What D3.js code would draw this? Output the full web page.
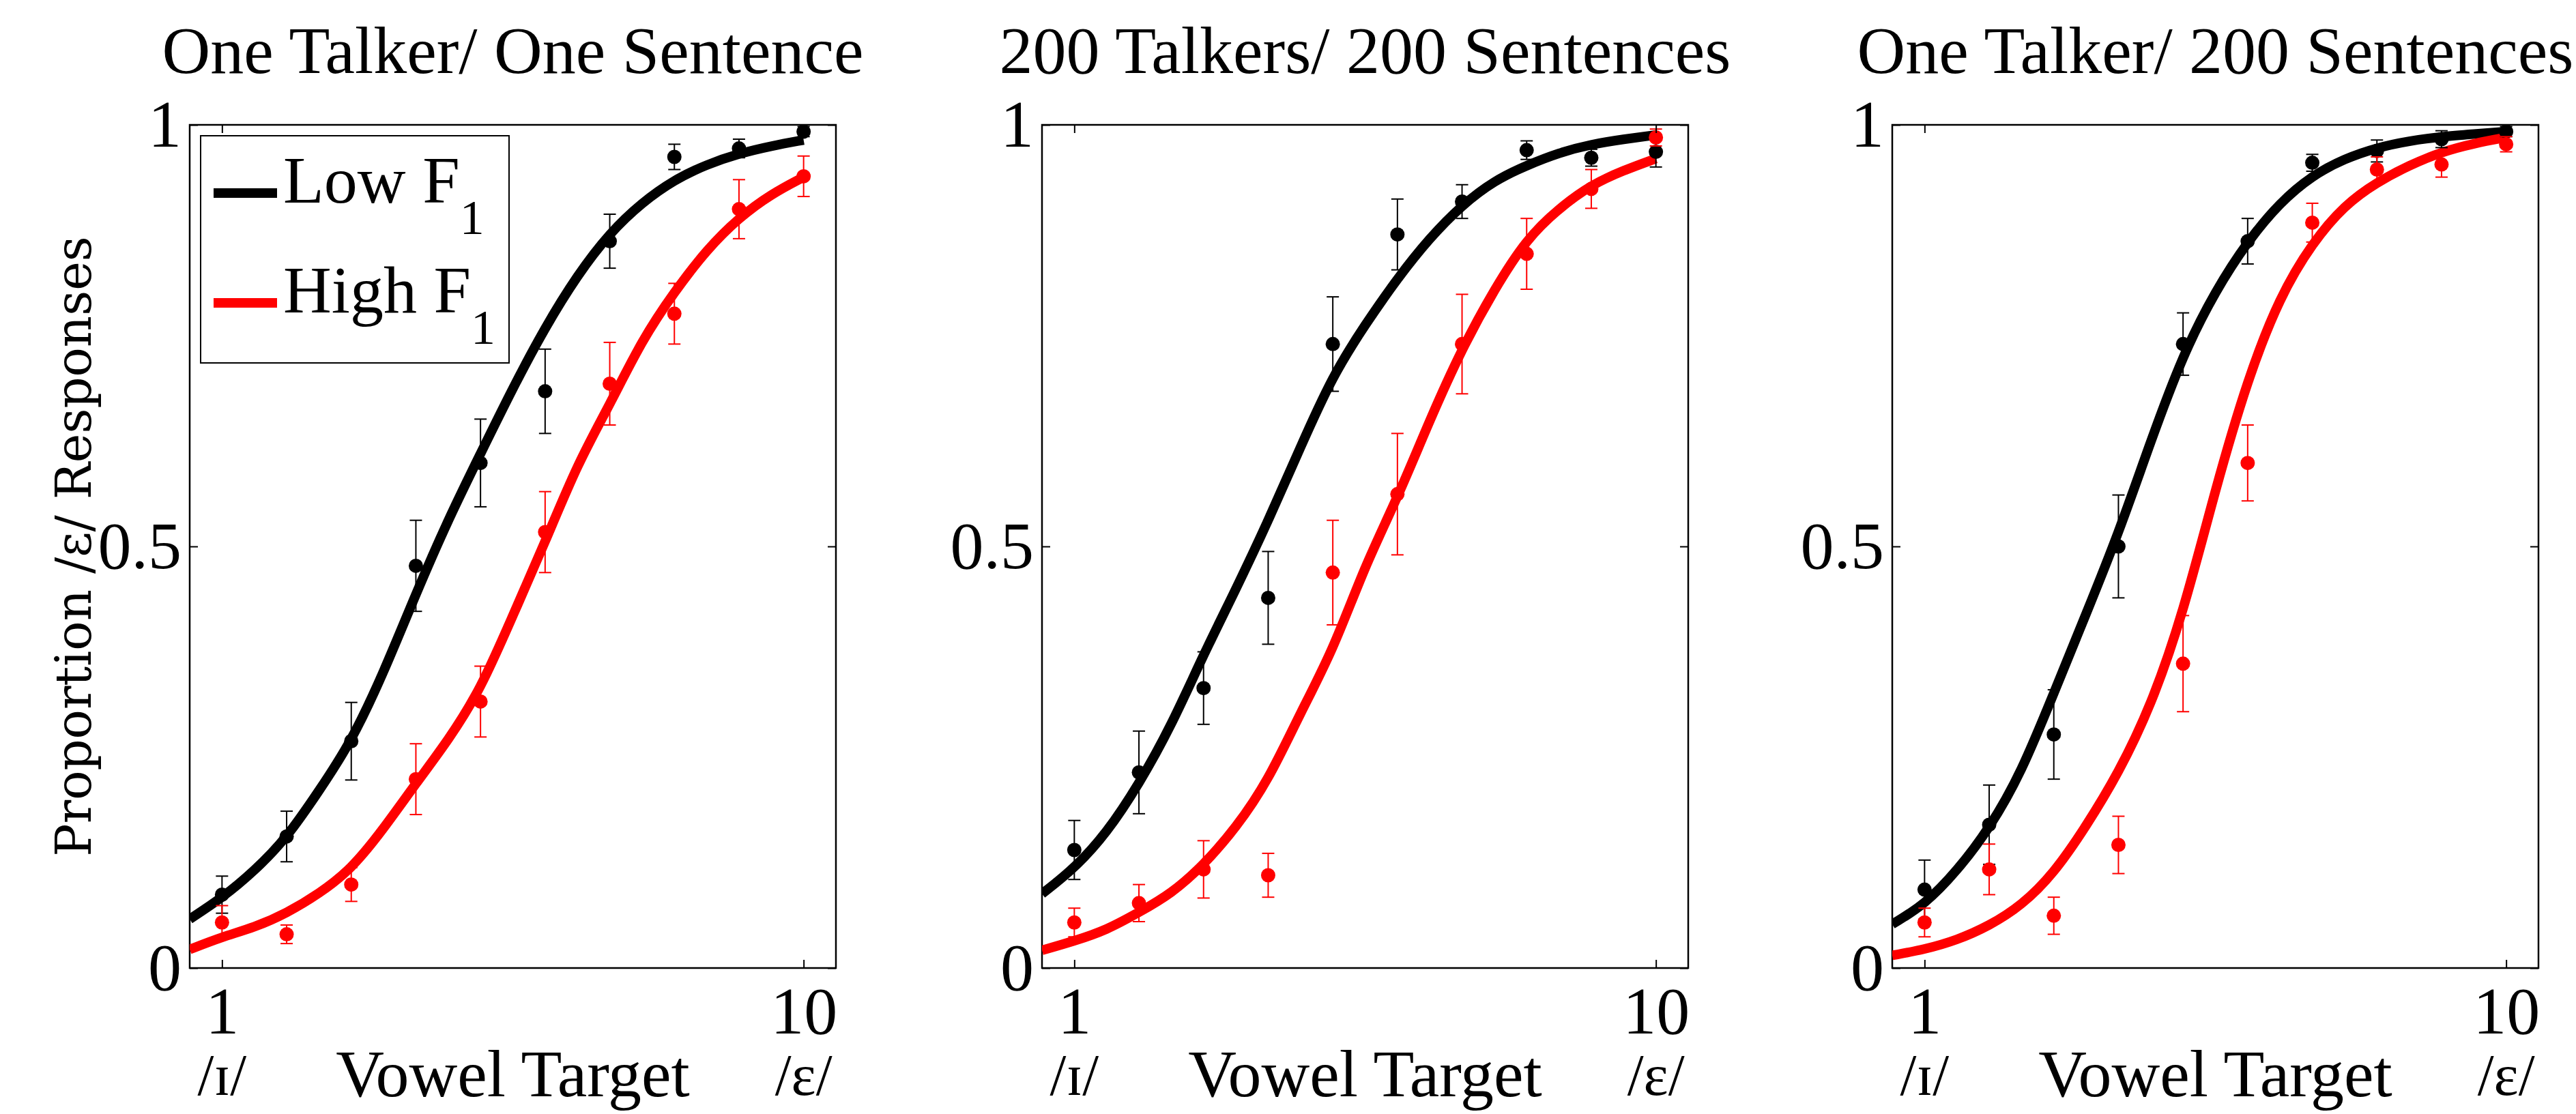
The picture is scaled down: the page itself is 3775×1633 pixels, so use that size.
<!DOCTYPE html>
<html>
<head>
<meta charset="utf-8">
<script src="https://cdn.jsdelivr.net/npm/d3@7"></script>
<style>
  body { margin: 0; background: #fff; }
  svg { display: block; }
</style>
</head>
<body>
<svg id="drawing_region"></svg>
<script>
// ---- data ----
const panelTitles = ['One Talker/ One Sentence', '200 Talkers/ 200 Sentences', 'One Talker/ 200 Sentences'];
const vowelSteps = [1, 2, 3, 4, 5, 6, 7, 8, 9, 10];
const xTickValues = [1, 10];
const yTickValues = [0, 0.5, 1];
const yTickLabels = ['0', '0.5', '1'];
const endpointLabels = ['/\u026A/', '/\u03B5/'];
const legendLabels = ['Low F', 'High F'];
const seriesColors = ['#000000', '#ff0000'];

const lowF1Means = [
    [0.087, 0.156, 0.269, 0.477, 0.599, 0.684, 0.862, 0.962, 0.972, 0.992],
    [0.140, 0.232, 0.332, 0.439, 0.740, 0.870, 0.909, 0.970, 0.961, 0.968],
    [0.093, 0.170, 0.277, 0.500, 0.740, 0.862, 0.955, 0.969, 0.983, 0.992]
];
const lowF1Errors = [
    [0.022, 0.030, 0.046, 0.054, 0.052, 0.050, 0.032, 0.015, 0.011, 0.006],
    [0.035, 0.049, 0.043, 0.055, 0.056, 0.042, 0.020, 0.011, 0.010, 0.018],
    [0.035, 0.047, 0.053, 0.061, 0.037, 0.027, 0.010, 0.013, 0.010, 0.006]
];
const highF1Means = [
    [0.054, 0.040, 0.099, 0.224, 0.316, 0.517, 0.693, 0.776, 0.900, 0.939],
    [0.054, 0.077, 0.117, 0.110, 0.469, 0.562, 0.740, 0.847, 0.924, 0.985],
    [0.054, 0.117, 0.062, 0.146, 0.361, 0.599, 0.884, 0.947, 0.953, 0.977]
];
const highF1Errors = [
    [0.020, 0.011, 0.020, 0.042, 0.042, 0.048, 0.049, 0.036, 0.035, 0.024],
    [0.017, 0.022, 0.034, 0.026, 0.062, 0.072, 0.059, 0.042, 0.023, 0.010],
    [0.017, 0.030, 0.022, 0.034, 0.057, 0.045, 0.023, 0.015, 0.015, 0.009]
];

// fitted curves, sampled along the continuum
const fitSteps = [0.5, 1, 1.5, 2, 2.5, 3, 3.5, 4, 4.5, 5, 5.5, 6, 6.5, 7, 7.5, 8, 8.5, 9, 9.5, 10];
const lowF1Fit = [
    [0.058, 0.083, 0.115, 0.154, 0.210, 0.268, 0.350, 0.444, 0.532, 0.610, 0.688, 0.760, 0.822, 0.872, 0.908, 0.935, 0.953, 0.966, 0.975, 0.982],
    [0.088, 0.118, 0.160, 0.218, 0.287, 0.372, 0.449, 0.530, 0.618, 0.703, 0.763, 0.818, 0.866, 0.905, 0.934, 0.952, 0.967, 0.977, 0.983, 0.988],
    [0.052, 0.075, 0.115, 0.165, 0.232, 0.326, 0.420, 0.515, 0.625, 0.728, 0.803, 0.862, 0.908, 0.940, 0.960, 0.973, 0.981, 0.986, 0.989, 0.992]
];
const highF1Fit = [
    [0.022, 0.037, 0.048, 0.065, 0.088, 0.117, 0.165, 0.219, 0.270, 0.330, 0.418, 0.505, 0.598, 0.668, 0.745, 0.802, 0.852, 0.890, 0.918, 0.938],
    [0.021, 0.032, 0.045, 0.066, 0.088, 0.122, 0.166, 0.222, 0.303, 0.376, 0.478, 0.557, 0.650, 0.735, 0.805, 0.865, 0.901, 0.929, 0.946, 0.960],
    [0.015, 0.022, 0.033, 0.050, 0.074, 0.112, 0.168, 0.231, 0.310, 0.420, 0.568, 0.699, 0.797, 0.860, 0.905, 0.932, 0.952, 0.968, 0.978, 0.985]
];

const svg = d3.select('#drawing_region')
    .attr('width', 3775)
    .attr('height', 1633);
svg.append('rect').attr('width', 3775).attr('height', 1633).attr('fill', '#ffffff');

const SERIF = 'Liberation Serif';

class CategorizationPanel {

    constructor( config, data ) {
        this.config = {
            parent: config.parent,
            index: config.index,
            left: config.left,
            top: config.top || 183,
            width: config.width || 947,
            height: config.height || 1236,
            title: config.title || '',
            ylabel: config.ylabel || '',
            legend: config.legend || false
        };
        this.data = data;
        this.init();
    }

    init() {
        let self = this;

        self.chart = self.config.parent.append('g')
            .attr('font-family', SERIF)
            .attr('transform', `translate(${self.config.left}, ${self.config.top})`);

        self.xscale = d3.scaleLinear()
            .domain([0.5, 10.5])
            .range([0, self.config.width]);

        self.yscale = d3.scaleLinear()
            .domain([0, 1])
            .range([self.config.height, 0]);

        self.line = d3.line()
            .x(d => self.xscale(d[0]))
            .y(d => self.yscale(d[1]))
            .curve(d3.curveBasis);

        self.clipId = 'plotclip' + self.config.index;
        self.chart.append('clipPath')
            .attr('id', self.clipId)
            .append('rect')
            .attr('width', self.config.width)
            .attr('height', self.config.height);
    }

    update() {
        let self = this;
        self.render();
    }

    render() {
        let self = this;
        const W = self.config.width, H = self.config.height;

        // title
        self.chart.append('text')
            .attr('x', W / 2)
            .attr('y', 107 - self.config.top)
            .attr('text-anchor', 'middle')
            .attr('font-family', SERIF)
            .attr('font-size', 98)
            .text(self.config.title);

        // frame
        self.chart.append('rect')
            .attr('width', W)
            .attr('height', H)
            .attr('fill', 'none')
            .attr('stroke', '#000')
            .attr('stroke-width', 2.5);

        // fitted curves
        const curves = self.chart.append('g').attr('clip-path', `url(#${self.clipId})`);
        self.data.fits.forEach( (fit, s) => {
            curves.append('path')
                .datum(fitSteps.map((x, i) => [x, fit[i]]))
                .attr('d', self.line)
                .attr('fill', 'none')
                .attr('stroke', seriesColors[s])
                .attr('stroke-width', 14);
        });

        // error bars and means
        self.data.means.forEach( (means, s) => {
            const pts = vowelSteps.map((x, i) => ({x: x, y: means[i], e: self.data.errors[s][i]}));
            const g = self.chart.append('g')
                .attr('stroke', seriesColors[s])
                .attr('fill', seriesColors[s]);

            const bars = g.selectAll('.eb').data(pts).enter().append('g');
            bars.append('line')
                .attr('x1', d => self.xscale(d.x)).attr('x2', d => self.xscale(d.x))
                .attr('y1', d => self.yscale(d.y - d.e)).attr('y2', d => self.yscale(d.y + d.e))
                .attr('stroke-width', 2);
            bars.append('line')
                .attr('x1', d => self.xscale(d.x) - 9).attr('x2', d => self.xscale(d.x) + 9)
                .attr('y1', d => self.yscale(d.y + d.e)).attr('y2', d => self.yscale(d.y + d.e))
                .attr('stroke-width', 2);
            bars.append('line')
                .attr('x1', d => self.xscale(d.x) - 9).attr('x2', d => self.xscale(d.x) + 9)
                .attr('y1', d => self.yscale(d.y - d.e)).attr('y2', d => self.yscale(d.y - d.e))
                .attr('stroke-width', 2);

            g.selectAll('circle').data(pts).enter().append('circle')
                .attr('cx', d => self.xscale(d.x))
                .attr('cy', d => self.yscale(d.y))
                .attr('r', 10.5)
                .attr('stroke', 'none');
        });

        // axes
        const styleAxis = (g) => {
            g.attr('font-family', SERIF).attr('font-size', 98);
            g.select('.domain').remove();
            g.selectAll('.tick line').attr('stroke', '#000').attr('stroke-width', 2);
            g.selectAll('text').attr('fill', '#000');
        };

        self.chart.append('g')
            .attr('transform', `translate(0, ${H})`)
            .call(d3.axisBottom(self.xscale).tickValues(xTickValues)
                .tickSizeInner(-12).tickSizeOuter(0).tickPadding(26))
            .call(styleAxis);

        self.chart.append('g')
            .call(d3.axisTop(self.xscale).tickValues(xTickValues)
                .tickSizeInner(-12).tickSizeOuter(0).tickFormat(''))
            .call(styleAxis);

        self.chart.append('g')
            .call(d3.axisLeft(self.yscale).tickValues(yTickValues)
                .tickFormat((d, i) => yTickLabels[i])
                .tickSizeInner(-12).tickSizeOuter(0).tickPadding(12))
            .call(styleAxis);

        self.chart.append('g')
            .attr('transform', `translate(${W}, 0)`)
            .call(d3.axisRight(self.yscale).tickValues(yTickValues)
                .tickSizeInner(-12).tickSizeOuter(0).tickFormat(''))
            .call(styleAxis);

        // x label row
        const row = self.chart.append('g').attr('font-family', SERIF);
        row.append('text')
            .attr('x', self.xscale(xTickValues[0]))
            .attr('y', H + 186)
            .attr('text-anchor', 'middle')
            .attr('font-size', 86)
            .text(endpointLabels[0]);
        row.append('text')
            .attr('x', self.xscale(xTickValues[1]))
            .attr('y', H + 186)
            .attr('text-anchor', 'middle')
            .attr('font-size', 86)
            .text(endpointLabels[1]);
        row.append('text')
            .attr('x', W / 2)
            .attr('y', H + 188)
            .attr('text-anchor', 'middle')
            .attr('font-size', 98)
            .text('Vowel Target');

        if (self.config.ylabel) {
            self.chart.append('text')
                .attr('transform', `translate(-145, ${H / 2}) rotate(-90)`)
                .attr('text-anchor', 'middle')
                .attr('font-family', 'DejaVu Serif')
                .attr('font-size', 72)
                .text(self.config.ylabel);
        }

        if (self.config.legend) {
            const lg = self.chart.append('g').attr('transform', 'translate(16, 16)');
            lg.append('rect')
                .attr('width', 452).attr('height', 333)
                .attr('fill', '#fff').attr('stroke', '#000').attr('stroke-width', 2);
            legendLabels.forEach( (label, i) => {
                const yy = 84 + i * 161;
                lg.append('line')
                    .attr('x1', 19).attr('x2', 112)
                    .attr('y1', yy).attr('y2', yy)
                    .attr('stroke', seriesColors[i]).attr('stroke-width', 14);
                const t = lg.append('text')
                    .attr('x', 121).attr('y', yy + 14)
                    .attr('font-family', SERIF)
                    .attr('font-size', 98)
                    .text(label);
                t.append('tspan')
                    .attr('dy', 46)
                    .attr('font-size', 72)
                    .text('1');
            });
        }
    }
}

const panelLefts = [278, 1527, 2773];
panelTitles.forEach( (title, p) => {
    const panel = new CategorizationPanel({
        parent: svg,
        index: p,
        left: panelLefts[p],
        title: title,
        ylabel: p === 0 ? 'Proportion /\u03B5/ Responses' : '',
        legend: p === 0
    }, {
        means: [lowF1Means[p], highF1Means[p]],
        errors: [lowF1Errors[p], highF1Errors[p]],
        fits: [lowF1Fit[p], highF1Fit[p]]
    });
    panel.update();
});
</script>
</body>
</html>
